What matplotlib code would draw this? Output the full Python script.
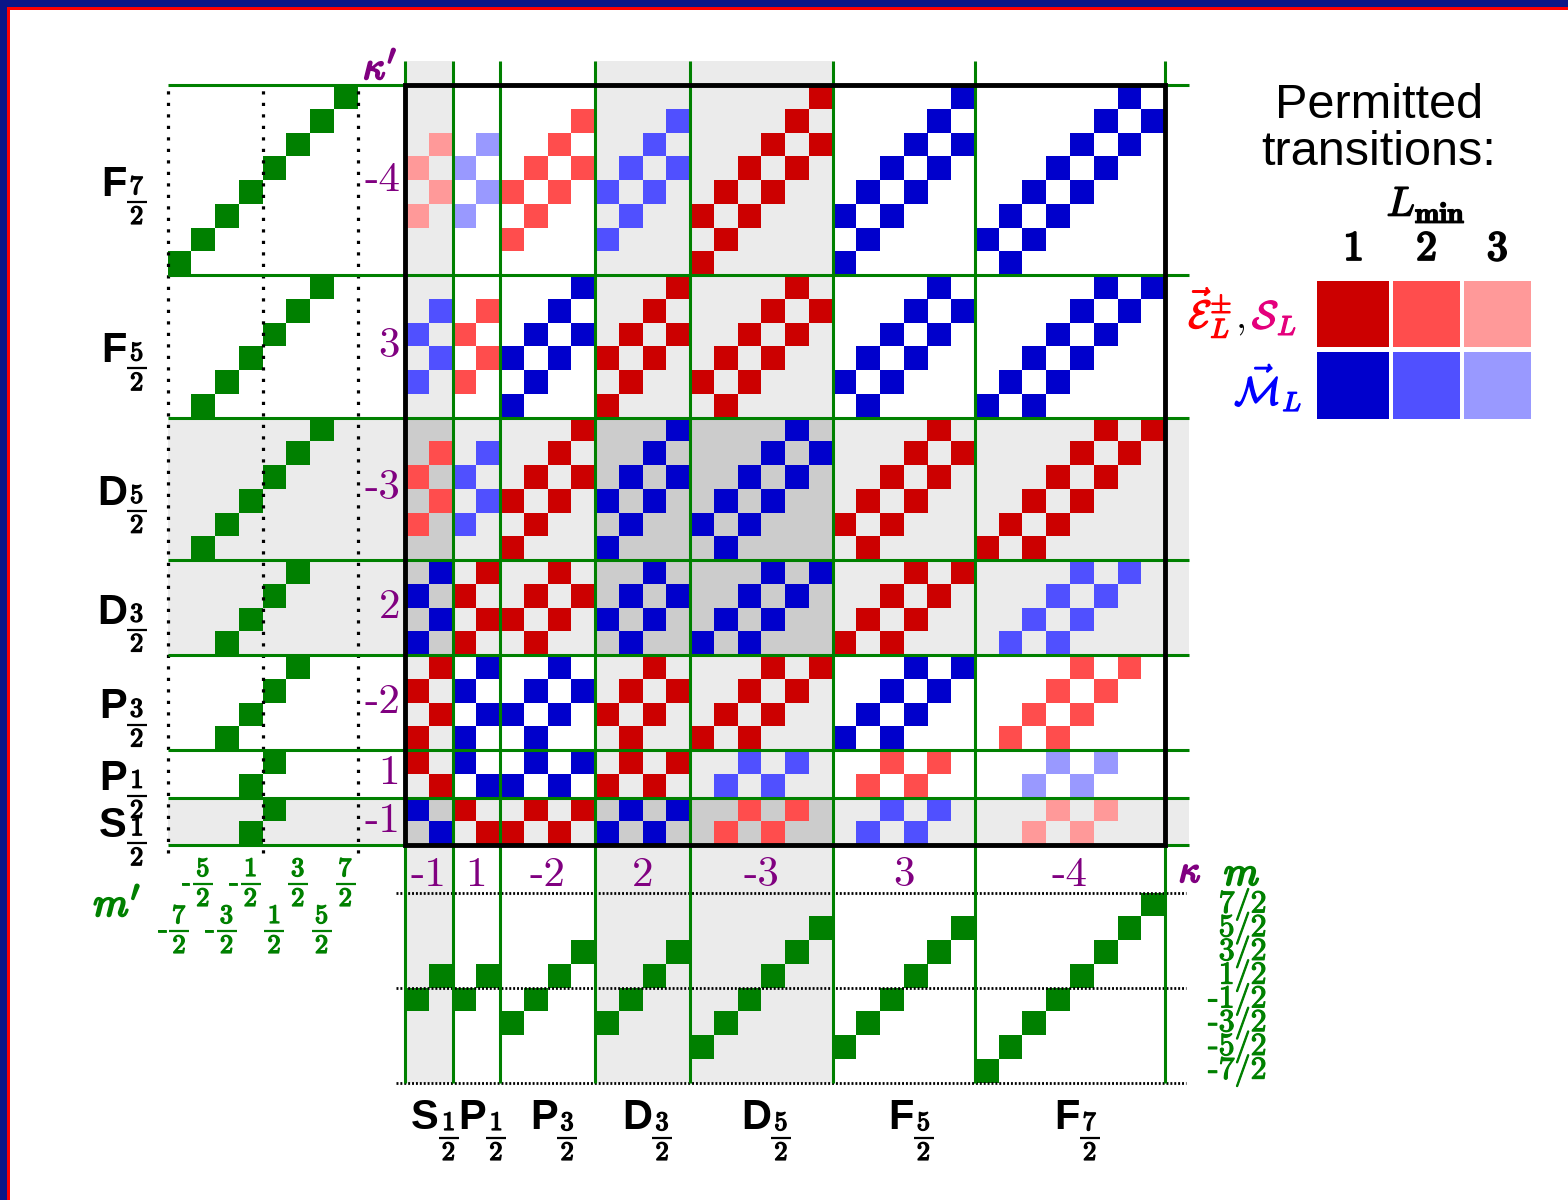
import matplotlib
matplotlib.use('Agg')
import matplotlib.pyplot as plt
import matplotlib.patheffects as pe
from matplotlib.patches import Rectangle
import numpy as np

plt.rcParams['mathtext.fontset'] = 'cm'

# orbitals along both axes, from kappa = -1 up to kappa = -4
orbitals = ['S', 'P', 'P', 'D', 'D', 'F', 'F']
two_j = [1, 1, 3, 3, 5, 5, 7]
kappas = [-1, 1, -2, 2, -3, 3, -4]
even_parity = [True, False, False, True, True, False, False]

# lowest multipole for each block, rows kappa' (bottom -> top), columns kappa (left -> right)
lowest_multipole = [
    ['M1', 'E1', 'E1', 'M1', 'E2', 'M2', 'E3'],  # kappa' = -1
    ['E1', 'M1', 'M1', 'E1', 'M2', 'E2', 'M3'],  # kappa' = 1
    ['E1', 'M1', 'M1', 'E1', 'E1', 'M1', 'E2'],  # kappa' = -2
    ['M1', 'E1', 'E1', 'M1', 'M1', 'E1', 'M2'],  # kappa' = 2
    ['E2', 'M2', 'E1', 'M1', 'M1', 'E1', 'E1'],  # kappa' = -3
    ['M2', 'E2', 'M1', 'E1', 'E1', 'M1', 'M1'],  # kappa' = 3
    ['E3', 'M3', 'E2', 'M2', 'E1', 'M1', 'M1'],  # kappa' = -4
]
delta_m = [-1, 1]          # permitted m' - m
m_twice = [-7, -5, -3, -1, 1, 3, 5, 7]   # 2m labels
legend_L = [1, 2, 3]

colours = {'E1': '#cc0000', 'E2': '#ff4d4d', 'E3': '#ff9999',
           'M1': '#0000cc', 'M2': '#5050ff', 'M3': '#9999ff'}
GREEN = '#008000'
PURPLE = '#800080'
LIGHT = '#ebebeb'
DARK = '#cccccc'
NAVY = '#0b1687'

sizes = [t + 1 for t in two_j]
offsets = [int(v) for v in np.concatenate([[0], np.cumsum(sizes)[:-1]])]
total = sum(sizes)

PX = 23.75  # pixels per cell


def cx(p):
    return (p - 405) / PX


def cy(p):
    return (845 - p) / PX


def heavy(c, w=1.2):
    return [pe.withStroke(linewidth=w, foreground=c)]


fig = plt.figure(figsize=(15.68, 12), dpi=100)
ax = fig.add_axes([0, 0, 1, 1])
ax.set_xlim(cx(0), cx(1568))
ax.set_ylim(cy(1200), cy(0))
ax.axis('off')


def fraction(x, y, num, size, color, half=10):
    # bold n/2 drawn as numerator, bar, denominator; (x, y) is the bar centre
    gap = 2.0 / PX
    ax.text(x, y + gap, r'$\mathbf{%d}$' % num, ha='center', va='bottom', size=size,
            color=color, path_effects=heavy(color, 1.0))
    ax.text(x, y - gap, r'$\mathbf{2}$', ha='center', va='top', size=size,
            color=color, path_effects=heavy(color, 1.0))
    ax.plot([x - half / PX, x + half / PX], [y, y], color=color, lw=1.6, solid_capstyle='butt')


# frame of the slide
fig.add_artist(Rectangle((0, 1 - 7 / 1200), 1, 7 / 1200, transform=fig.transFigure, fc=NAVY, lw=0))
fig.add_artist(Rectangle((0, 0), 7 / 1568, 1, transform=fig.transFigure, fc=NAVY, lw=0))
fig.add_artist(Rectangle((7 / 1568, 1 - 9.5 / 1200), 1, 2.5 / 1200, transform=fig.transFigure, fc='red', lw=0))
fig.add_artist(Rectangle((7 / 1568, 0), 3 / 1568, 1 - 7 / 1200, transform=fig.transFigure, fc='red', lw=0))

# grey bands for even-l states
for k in range(7):
    if even_parity[k]:
        ax.add_patch(Rectangle((offsets[k], -10), sizes[k], total + 11, fc=LIGHT, lw=0, zorder=1))
        ax.add_patch(Rectangle((-10, offsets[k]), total + 11, sizes[k], fc=LIGHT, lw=0, zorder=1))
for r in range(7):
    for c in range(7):
        if even_parity[r] and even_parity[c]:
            ax.add_patch(Rectangle((offsets[c], offsets[r]), sizes[c], sizes[r],
                                   fc=DARK, lw=0, zorder=1.5))

# permitted transitions
for r in range(7):
    for c in range(7):
        col = colours[lowest_multipole[r][c]]
        for b in range(sizes[r]):
            mp = b - two_j[r] / 2
            for a in range(sizes[c]):
                m = a - two_j[c] / 2
                if (mp - m) in delta_m:
                    ax.add_patch(Rectangle((offsets[c] + a, offsets[r] + b), 1, 1,
                                           fc=col, lw=0, zorder=2))

# m and m' staircases
for k in range(7):
    for i in range(sizes[k]):
        m = i - two_j[k] / 2
        ax.add_patch(Rectangle((-10 + m + 3.5, offsets[k] + i), 1, 1, fc=GREEN, lw=0, zorder=2))
        ax.add_patch(Rectangle((offsets[k] + i, -10 + m + 3.5), 1, 1, fc=GREEN, lw=0, zorder=2))

# grid lines
for e in offsets + [total]:
    ax.plot([e, e], [-10, total + 1], color=GREEN, lw=2.2, zorder=4, solid_capstyle='butt')
    ax.plot([-10, total + 1], [e, e], color=GREEN, lw=2.2, zorder=4, solid_capstyle='butt')
ax.add_patch(Rectangle((0, 0), total, total, fill=False, ec='black', lw=3.5, zorder=5))
for x in (-10, -6, -2):
    ax.plot([x, x], [-0.35, 32.1], color='black', lw=2.3, ls=(0, (1, 2.6)), zorder=3)
for y in (-2, -6, -10):
    ax.plot([-0.4, 32.9], [y, y], color='black', lw=2, ls=(0, (0.7, 0.7)), zorder=3)

# kappa labels
for k in range(7):
    ax.text(-0.2, offsets[k] + sizes[k] / 2, str(kappas[k]), ha='right', va='center',
            fontfamily='cmr10', size=31, color=PURPLE)
    ax.text(offsets[k] + sizes[k] / 2, cy(875), str(kappas[k]), ha='center', va='center',
            fontfamily='cmr10', size=31, color=PURPLE)
ax.text(cx(380), cy(68), r"$\kappa'$", ha='center', va='center', size=28, color=PURPLE,
        path_effects=heavy(PURPLE, 1.5))
ax.text(cx(1190), cy(872), r'$\kappa$', ha='center', va='center', size=27, color=PURPLE,
        path_effects=heavy(PURPLE, 1.5))
ax.text(cx(1242), cy(874), r'$m$', ha='center', va='center', size=29, color=GREEN,
        path_effects=heavy(GREEN, 1.5))
ax.text(cx(117), cy(905), r"$m'$", ha='center', va='center', size=29, color=GREEN,
        path_effects=heavy(GREEN, 1.5))

# orbital labels: letter in sans bold, j as a bold fraction
for k in range(7):
    yc = offsets[k] + sizes[k] / 2
    ax.text(cx(127), yc - 16 / PX, orbitals[k], ha='right', va='baseline',
            fontfamily='Liberation Sans', fontweight='bold', size=30)
    fraction(cx(137), yc - 22 / PX, two_j[k], 19, 'black')
    xj = offsets[k] + sizes[k] / 2 + 0.42
    ax.text(xj, cy(1129), orbitals[k], ha='right', va='baseline',
            fontfamily='Liberation Sans', fontweight='bold', size=30)
    fraction(xj + 10 / PX, cy(1138), two_j[k], 19, 'black')

# m' and m value labels
for i, m2 in enumerate(m_twice):
    sign = '-' if m2 < 0 else ''
    xc = -10 + i + 0.5
    yb = cy(884) if i % 2 == 1 else cy(931)
    fraction(xc, yb, abs(m2), 19, GREEN)
    if m2 < 0:
        ax.text(xc - 12 / PX, yb - 6 / PX, '-', ha='right', va='baseline',
                fontfamily='cmr10', size=21, color=GREEN, path_effects=heavy(GREEN, 0.6))
    ax.text(cx(1267), -10 + i + 0.5, sign + r'$\mathbf{%d/2}$' % abs(m2), ha='right', va='center',
            fontfamily='cmr10', size=23, color=GREEN, path_effects=heavy(GREEN, 0.8))

# legend
ax.text(cx(1379), cy(118), 'Permitted', ha='center', va='baseline',
        fontfamily='Liberation Sans', size=35)
ax.text(cx(1379), cy(165), 'transitions:', ha='center', va='baseline',
        fontfamily='Liberation Sans', size=35)
ax.text(cx(1426), cy(204), r'$L_{\mathbf{min}}$', ha='center', va='center', size=30,
        path_effects=heavy('black', 1.0))
sq_x = [cx(1317), cx(1393), cx(1464)]
sq_w = [cx(1389) - cx(1317), cx(1460) - cx(1393), cx(1531) - cx(1464)]
for i, L in enumerate(legend_L):
    ax.text(sq_x[i] + sq_w[i] / 2, cy(248), r'$\mathbf{%d}$' % L, ha='center', va='center', size=30,
            path_effects=heavy('black', 1.5))
    ax.add_patch(Rectangle((sq_x[i], cy(347)), sq_w[i], cy(281) - cy(347),
                           fc=colours['E%d' % L], lw=0, zorder=2))
    ax.add_patch(Rectangle((sq_x[i], cy(419)), sq_w[i], cy(352) - cy(419),
                           fc=colours['M%d' % L], lw=0, zorder=2))
ax.text(cx(1232), cy(313), r'$\vec{\mathcal{E}}_L^{\pm}$', ha='right', va='center', size=28,
        color='#ff0000', path_effects=heavy('#ff0000', 1.0))
ax.text(cx(1240), cy(318), r'$,$', ha='center', va='center', size=28, color='black')
ax.text(cx(1252), cy(318), r'$\mathcal{S}_L$', ha='left', va='center', size=28,
        color='#e4007c', path_effects=heavy('#e4007c', 1.0))
ax.text(cx(1302), cy(388), r'$\vec{\mathcal{M}}_L$', ha='right', va='center', size=28,
        color='#0000ff', path_effects=heavy('#0000ff', 1.0))

fig.savefig('out.png', dpi=100, facecolor='white')
